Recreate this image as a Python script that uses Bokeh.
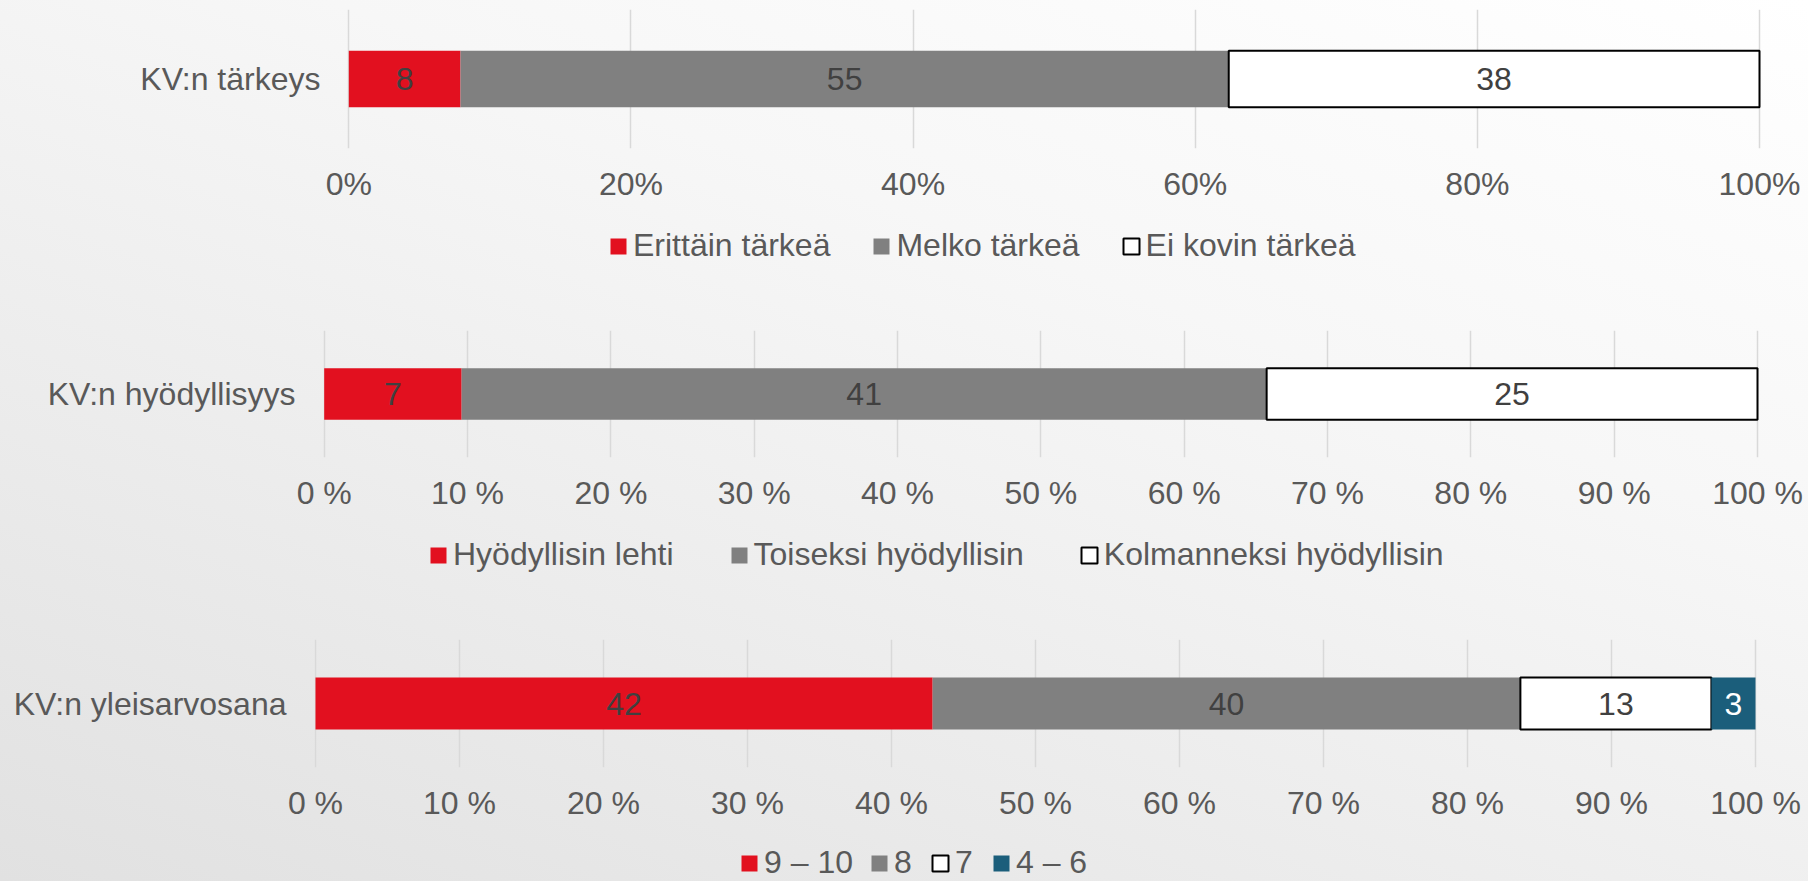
from bokeh.plotting import figure
from bokeh.models import (FactorRange, Range1d, FixedTicker, Legend, LegendItem,
                          ColumnDataSource, GlobalInlineStyleSheet)
from bokeh.layouts import column
from bokeh.embed import file_html
from bokeh.resources import INLINE
from bokeh.core.properties import value

# ---------------- data ----------------
cat1 = "KV:n tärkeys"
series1 = ["Erittäin tärkeä", "Melko tärkeä", "Ei kovin tärkeä"]
values1 = [8, 55, 38]
ticks1 = [0, 20, 40, 60, 80, 100]
tick_labels1 = ["0%", "20%", "40%", "60%", "80%", "100%"]

cat2 = "KV:n hyödyllisyys"
series2 = ["Hyödyllisin lehti", "Toiseksi hyödyllisin", "Kolmanneksi hyödyllisin"]
values2 = [7, 41, 25]
ticks2 = [0, 10, 20, 30, 40, 50, 60, 70, 80, 90, 100]
tick_labels2 = ["0 %", "10 %", "20 %", "30 %", "40 %", "50 %", "60 %", "70 %", "80 %", "90 %", "100 %"]

cat3 = "KV:n yleisarvosana"
series3 = ["9 – 10", "8", "7", "4 – 6"]
values3 = [42, 40, 13, 3]
ticks3 = [0, 10, 20, 30, 40, 50, 60, 70, 80, 90, 100]
tick_labels3 = ["0 %", "10 %", "20 %", "30 %", "40 %", "50 %", "60 %", "70 %", "80 %", "90 %", "100 %"]

# ---------------- style ----------------
FONT = "Liberation Sans"
fills = ["#E2101F", "#808080", "#FFFFFF", "#1B5E7B"]
lines = [None, None, "#000000", None]
label_colors = ["#404040", "#404040", "#404040", "#FFFFFF"]
TEXT = "#595959"
W = 1808
BL, BR = 314, 38   # common frame borders (column aligns frames)
NAN = float("nan")


def make_chart(cat, series, vals, ticks, tick_labels, height, bt, bb, xr, ystand):
    p = figure(width=W, height=height, y_range=FactorRange(cat),
               x_range=Range1d(*xr), output_backend="svg", toolbar_location=None,
               min_border_left=BL, min_border_right=BR, min_border_top=bt,
               min_border_bottom=bb, background_fill_alpha=0, border_fill_alpha=0,
               outline_line_color=None)
    total = sum(vals)
    start = 0
    for i, (name, v) in enumerate(zip(series, vals)):
        end = start + v
        src = ColumnDataSource(dict(
            y=[cat], left=[100.0 * start / total], right=[100.0 * end / total],
            mid=[100.0 * (start + end) / 2 / total], label=[str(v)]))
        p.hbar(y="y", left="left", right="right", height=0.405, source=src,
               fill_color=fills[i], line_color=lines[i], line_width=2)
        p.text(x="mid", y="y", text="label", source=src, text_align="center",
               text_baseline="middle", text_font=value(FONT), text_font_size="32px",
               text_color=label_colors[i])
        start = end

    xa = p.xaxis[0]
    xa.ticker = FixedTicker(ticks=ticks)
    xa.major_label_overrides = {t: l for t, l in zip(ticks, tick_labels)}
    xa.axis_line_color = None
    xa.major_tick_line_color = None
    xa.minor_tick_line_color = None
    xa.major_tick_out = 0
    xa.major_tick_in = 0
    xa.major_label_standoff = 17
    xa.major_label_text_font = FONT
    xa.major_label_text_font_size = "32px"
    xa.major_label_text_color = TEXT

    ya = p.yaxis[0]
    ya.axis_line_color = None
    ya.major_tick_line_color = None
    ya.minor_tick_line_color = None
    ya.major_tick_out = 0
    ya.major_tick_in = 0
    ya.major_label_standoff = ystand
    ya.major_label_text_font = FONT
    ya.major_label_text_font_size = "32px"
    ya.major_label_text_color = TEXT

    p.xgrid.grid_line_color = "#D9D9D9"
    p.xgrid.grid_line_width = 1.5
    p.ygrid.grid_line_color = None
    return p


def make_legend(series, height, leg_x, leg_y, spacing):
    p = figure(width=W, height=height, x_range=Range1d(0, 1), y_range=Range1d(0, 1),
               output_backend="svg", toolbar_location=None,
               x_axis_location=None, y_axis_location=None,
               min_border_left=BL, min_border_right=BR, min_border_top=0,
               min_border_bottom=0,
               background_fill_alpha=0, border_fill_alpha=0, outline_line_color=None)
    p.grid.visible = False
    items = []
    for i, name in enumerate(series):
        # legend handle only: non-finite coordinates, so nothing is drawn
        r = p.hbar(y=[NAN], left=[NAN], right=[NAN], height=1, fill_color=fills[i],
                   line_color=lines[i], line_width=2)
        items.append(LegendItem(label=name, renderers=[r]))
    leg = Legend(items=items, location=(leg_x, leg_y), orientation="horizontal",
                 glyph_width=20, glyph_height=20, label_standoff=5,
                 spacing=spacing, padding=0, margin=0,
                 border_line_color=None, background_fill_alpha=0,
                 label_text_font=FONT, label_text_font_size="32px",
                 label_text_color=TEXT)
    p.add_layout(leg, "center")
    return p


c1 = make_chart(cat1, series1, values1, ticks1, tick_labels1, 210, 9, 62,
                (-2.431, 100.780), -6)
l1 = make_legend(series1, 80, 294, 26, 41)
c2 = make_chart(cat2, series2, values2, ticks2, tick_labels2, 230, 40, 63,
                (-0.677, 100.907), 19)
l2 = make_legend(series2, 70, 114, 17, 55)
c3 = make_chart(cat3, series3, values3, ticks3, tick_labels3, 240, 49, 63,
                (-0.069, 101.042), 28)
l3 = make_legend(series3, 51, 425, 0, 16)

bg = GlobalInlineStyleSheet(css="html, body { background: linear-gradient(200deg, #ffffff 0%, #f7f7f7 35%, #e1e1e1 100%); min-height: 100%; }")
layout = column(c1, l1, c2, l2, c3, l3, spacing=0, stylesheets=[bg])

open("out.html", "w").write(file_html(layout, INLINE))
